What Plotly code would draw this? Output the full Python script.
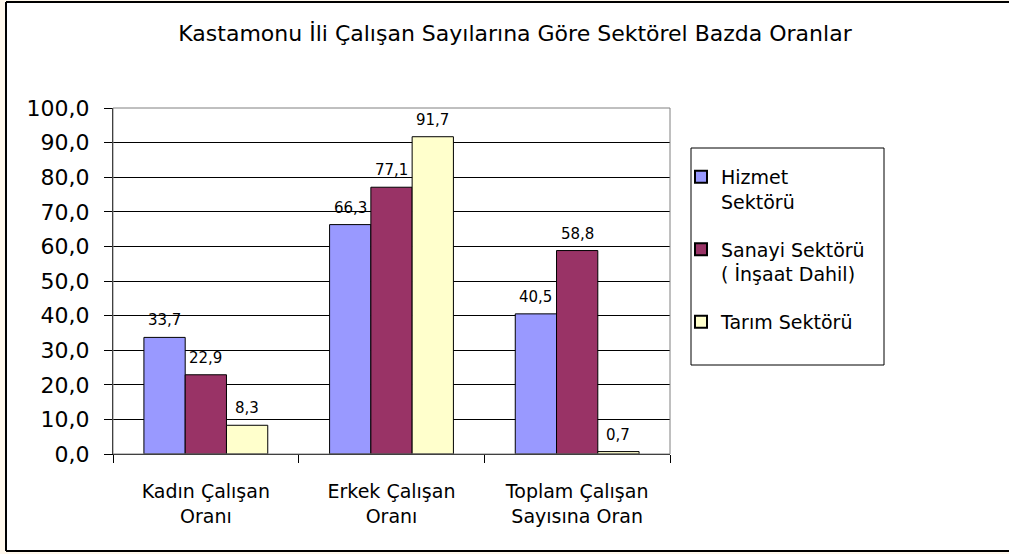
import plotly.graph_objects as go

categories = ["Kadın Çalışan<br>Oranı", "Erkek Çalışan<br>Oranı", "Toplam Çalışan<br>Sayısına Oran"]
series_names = ["Hizmet<br>Sektörü", "Sanayi Sektörü<br>( İnşaat Dahil)", "Tarım Sektörü"]
hizmet = [33.7, 66.3, 40.5]
sanayi = [22.9, 77.1, 58.8]
tarim = [8.3, 91.7, 0.7]
colors = ["#9999FF", "#993366", "#FFFFCC"]
y_ticks = [0, 10, 20, 30, 40, 50, 60, 70, 80, 90, 100]

W, H = 1009, 554
L, R, T, B = 113, 670, 108, 454
bar_px = (R - L) / 3 / 4.5  # bar width in pixels (gap 150%)

fig = go.Figure()
annotations = []
all_series = [hizmet, sanayi, tarim]
for i, (name, vals, col) in enumerate(zip(series_names, all_series, colors)):
    fig.add_trace(go.Bar(
        x=categories, y=vals, name=name, legendgroup=f"g{i}",
        marker=dict(color=col, line=dict(color="#000000", width=1)),
    ))
    for cat, v in zip(categories, vals):
        annotations.append(dict(
            x=cat, y=v, xref="x", yref="y", showarrow=False,
            text=f"{v:.1f}".replace(".", ","),
            xshift=(i - 1) * bar_px, yshift=6, yanchor="bottom",
            font=dict(family="DejaVu Sans", size=15, color="#000000"),
        ))

def px_x(p):
    return (p - L) / (R - L)

def px_y(p):
    return (B - p) / (B - T)

border = dict(color="#000000", width=2)
shapes = [
    dict(type="rect", xref="paper", yref="paper", layer="below",
         x0=px_x(6), x1=px_x(1009), y0=px_y(551), y1=px_y(2),
         fillcolor="#FFFFFF", line=dict(width=0)),
    dict(type="line", xref="paper", yref="paper", x0=px_x(6), x1=px_x(6),
         y0=px_y(551), y1=px_y(2), line=border),
    dict(type="line", xref="paper", yref="paper", x0=px_x(6), x1=px_x(1009),
         y0=px_y(2), y1=px_y(2), line=border),
    dict(type="line", xref="paper", yref="paper", x0=px_x(6), x1=px_x(1009),
         y0=px_y(551), y1=px_y(551), line=border),
    dict(type="rect", xref="paper", yref="paper", x0=0, x1=1, y0=0, y1=1,
         line=dict(color="#808080", width=1)),
    dict(type="rect", xref="paper", yref="paper",
         x0=px_x(691), x1=px_x(884), y0=px_y(365), y1=px_y(148),
         fillcolor="rgba(0,0,0,0)", line=dict(color="#000000", width=1)),
]

fig.update_layout(
    width=W, height=H,
    margin=dict(l=L, r=W - R, t=T, b=H - B),
    paper_bgcolor="#FFF8EC",
    plot_bgcolor="#C0C0C0",
    separators=",.",
    barmode="group", bargap=0.333, bargroupgap=0,
    shapes=shapes,
    annotations=annotations,
    title=dict(text="Kastamonu İli Çalışan Sayılarına Göre Sektörel Bazda Oranlar",
               x=515 / W, xref="container", xanchor="center", y=1 - 33 / H, yanchor="middle",
               font=dict(family="DejaVu Sans", size=22, color="#000000")),
    xaxis=dict(showgrid=False, tickson="boundaries", ticks="outside", ticklen=8,
               tickcolor="#000000", showline=True, linecolor="#000000", linewidth=1,
               ticklabelstandoff=20,
               tickfont=dict(family="DejaVu Sans", size=19, color="#000000")),
    yaxis=dict(range=[0, 100], tickvals=y_ticks, tickformat=".1f",
               showgrid=True, gridcolor="#000000", gridwidth=1,
               ticks="outside", ticklen=8, tickcolor="#000000",
               showline=True, linecolor="#000000", linewidth=1,
               ticklabelstandoff=10,
               tickfont=dict(family="DejaVu Sans", size=22, color="#000000"),
               zeroline=False),
    legend=dict(x=px_x(681), y=px_y(158), xanchor="left", yanchor="top",
                borderwidth=0, bgcolor="rgba(0,0,0,0)",
                font=dict(family="DejaVu Sans", size=19, color="#000000"),
                tracegroupgap=20, itemsizing="constant", valign="top",
                itemwidth=30),
)

fig.write_html("out.html", config={"displayModeBar": False},
               post_script="document.body.style.margin='0';document.body.style.background='#FFF8EC';")
